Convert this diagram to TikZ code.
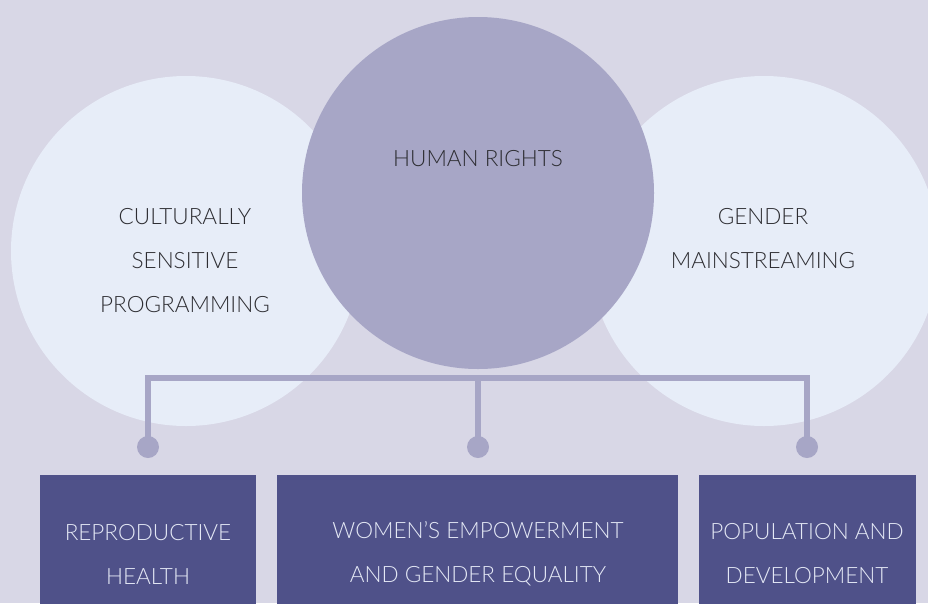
\documentclass[tikz,border=0pt]{standalone}
\usepackage{fontspec}
\setmainfont{Lato}[UprightFont=* Light]
\definecolor{bgc}{RGB}{216,215,230}
\definecolor{lightc}{RGB}{231,237,248}
\definecolor{midc}{RGB}{167,166,198}
\definecolor{boxc}{RGB}{79,81,137}
\definecolor{boxtext}{RGB}{228,232,245}
\definecolor{darktext}{RGB}{45,45,50}
\tikzset{
  lightcirc/.style={circle, fill=lightc, minimum size=350pt, inner sep=0pt},
  midcirc/.style={circle, fill=midc, minimum size=352pt, inner sep=0pt},
  lbl/.style={align=center, text=darktext, font=\fontsize{22.5}{44}\selectfont},
  boxlbl/.style={align=center, text=boxtext, font=\fontsize{22.5}{44}\selectfont},
  areabox/.style={fill=boxc, inner sep=0pt, anchor=north west},
  dotnode/.style={circle, fill=midc, minimum size=22pt, inner sep=0pt},
  link/.style={draw=midc, line width=6pt}
}
\begin{document}
\begin{tikzpicture}[x=1pt,y=-1pt]
\fill[bgc] (0,0) rectangle (928,603);
\useasboundingbox (0,0) rectangle (928,603);
% circles
\node[lightcirc] (left) at (186,251) {};
\node[lightcirc] (right) at (764,251) {};
\node[midcirc] (center) at (478,193) {};
% boxes
\node[areabox, minimum width=216pt, minimum height=140pt] (b1) at (40,475) {};
\node[areabox, minimum width=401pt, minimum height=140pt] (b2) at (277,475) {};
\node[areabox, minimum width=217pt, minimum height=140pt] (b3) at (699,475) {};
% connectors
\node[dotnode] (d1) at (148,447) {};
\node[dotnode] (d2) at (478,447) {};
\node[dotnode] (d3) at (807,447) {};
\coordinate (bar) at (478,378);
\draw[link] (d1.center) |- (bar) -| (d3.center);
\draw[link] (bar) -- (d2.center);
% labels
\node[lbl] (tl) at (185,261) {CULTURALLY\\SENSITIVE\\PROGRAMMING};
\node[lbl] (tc) at (478,159) {HUMAN RIGHTS};
\node[lbl] (tr) at (763,239) {GENDER\\MAINSTREAMING};
\node[boxlbl] (t1) at (148,554) {REPRODUCTIVE\\HEALTH};
\node[boxlbl] (t2) at (478,554) {WOMEN’S EMPOWERMENT\\AND GENDER EQUALITY};
\node[boxlbl] (t3) at (807,554) {POPULATION AND\\DEVELOPMENT};
\end{tikzpicture}
\end{document}
